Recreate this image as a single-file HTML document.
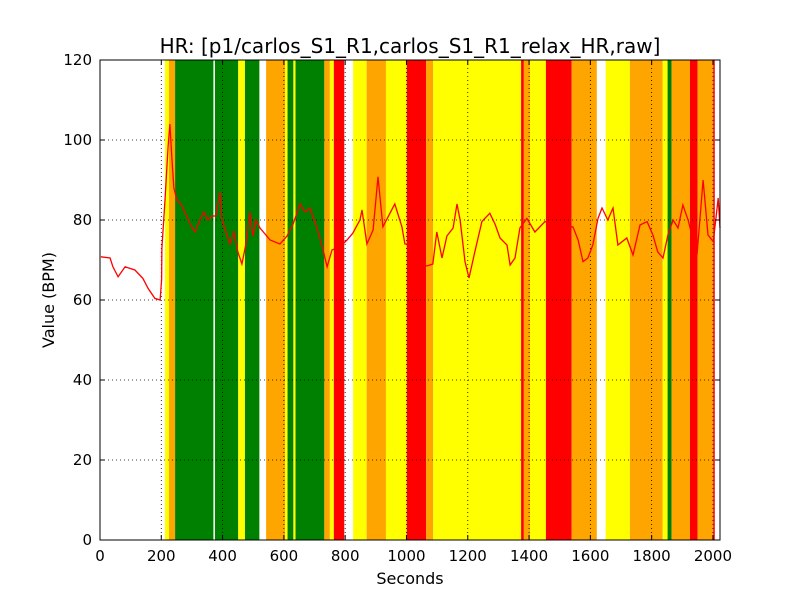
<!DOCTYPE html>
<html><head><meta charset="utf-8"><style>
body{margin:0;background:#fff;}
svg{display:block;font-family:"DejaVu Sans","Liberation Sans",sans-serif;}
</style></head><body>
<svg id="chart" width="800" height="600" viewBox="0 0 800 600" xmlns="http://www.w3.org/2000/svg">
<rect width="800" height="600" fill="#fff"/>
<g id="bands"></g>
<g id="grid"></g>
<g id="series"></g>
<rect x="100" y="60" width="620" height="480" fill="none" stroke="#000" stroke-width="1"/>
<g id="ticks"></g>
<text x="410" y="53" font-size="20" text-anchor="middle">HR: [p1/carlos_S1_R1,carlos_S1_R1_relax_HR,raw]</text>
<text x="410" y="584" font-size="16" text-anchor="middle">Seconds</text>
<text x="54" y="300" font-size="16" text-anchor="middle" transform="rotate(-90 54 300)">Value (BPM)</text>
</svg>
<script>
const xTicks=[0,200,400,600,800,1000,1200,1400,1600,1800,2000];
const yTicks=[0,20,40,60,80,100,120];
const bandStart=[212,225,245,375,451,473,542,604,612,631,638,732,750,763,826,870,933,1001,1064,1087,1374,1383,1403,1455,1539,1650,1729,1836,1852,1865,1925,1950,2001];
const bandEnd=[225,245,370,451,473,520,604,612,631,638,732,750,763,797,870,933,1001,1064,1087,1374,1383,1403,1455,1539,1621,1729,1836,1852,1865,1925,1950,2001,2006];
const bandColor=["yellow","orange","green","green","yellow","green","orange","yellow","green","yellow","green","orange","yellow","red","yellow","orange","yellow","red","orange","yellow","red","orange","yellow","red","orange","yellow","orange","yellow","green","orange","red","orange","red"];
const hrTime=[3,33,42,59,82,114,140,157,179,196,201,202,212,222,228,235,241,251,264,277,294,310,326,339,352,365,378,392,398,411,424,437,450,463,476,489,499,509,522,555,587,610,630,653,669,685,708,728,741,757,783,806,825,848,855,871,891,907,923,940,962,985,995,1002,1018,1044,1067,1086,1099,1116,1132,1152,1165,1175,1191,1204,1223,1246,1272,1289,1305,1328,1338,1354,1370,1393,1419,1452,1494,1543,1560,1576,1592,1608,1625,1638,1657,1674,1690,1719,1739,1762,1785,1804,1820,1837,1853,1870,1886,1902,1919,1948,1968,1984,2001,2017,2023];
const hrValue=[70.8,70.5,68.3,65.8,68.3,67.5,65.4,62.9,60.4,60,65,73,85,98,104,95,88,85,84,82,79,77,80,82,80,81,81,87,80,77,74,77,72,69,74,82,76,80,78,75,74,76,79,84,82,83,78,72.5,68.3,72.5,73.3,75,76.7,80,82.5,74,77.5,90.8,78.3,80.8,84,78.3,74,74,70,69,68.5,69,77,70.5,76,78,84,80,69.6,65.5,72,79.6,81.7,79,75.5,73.75,68.75,70.5,78,80.4,77,79.6,78,78.3,75,69.6,70.5,73.75,80.4,83,80,83,73.75,75.5,71.25,78.75,79.6,76.25,72,70.5,76.25,80,78,83.75,80,71.25,90,76.25,74.6,85.5,78];
const X0=100,X1=720,Y0=540,Y1=60,XMAX=2023,YMAX=120;
function sx(v){return X0+(v/XMAX)*(X1-X0);}
function sy(v){return Y0-(v/YMAX)*(Y0-Y1);}
const NS="http://www.w3.org/2000/svg";
function mk(tag,attrs,parent){const e=document.createElementNS(NS,tag);for(const k in attrs)e.setAttribute(k,attrs[k]);parent.appendChild(e);return e;}
const bands=document.getElementById('bands');
for(let i=0;i<bandStart.length;i++){
  const r=mk('rect',{x:sx(bandStart[i]),y:Y1,width:sx(bandEnd[i])-sx(bandStart[i]),height:Y0-Y1,fill:bandColor[i]},bands);
  
  
}
const grid=document.getElementById('grid'),ticks=document.getElementById('ticks');
xTicks.forEach(t=>{
  const x=sx(t);
  const g=mk('line',{x1:x,x2:x,y1:Y1,y2:Y0,stroke:'#000','stroke-width':0.8,'stroke-dasharray':'1,3'},grid);
  
  
  mk('line',{x1:x,x2:x,y1:Y0,y2:Y0-5,stroke:'#000'},ticks);
  mk('line',{x1:x,x2:x,y1:Y1,y2:Y1+5,stroke:'#000'},ticks);
  const tx=mk('text',{x:x,y:Y0+21,'font-size':15,'text-anchor':'middle'},ticks);
  tx.textContent=t;
  
  
});
yTicks.forEach(t=>{
  const y=sy(t);
  const g=mk('line',{x1:X0,x2:X1,y1:y,y2:y,stroke:'#000','stroke-width':0.8,'stroke-dasharray':'1,3'},grid);
  
  
  mk('line',{x1:X0,x2:X0+5,y1:y,y2:y,stroke:'#000'},ticks);
  mk('line',{x1:X1,x2:X1-5,y1:y,y2:y,stroke:'#000'},ticks);
  const tx=mk('text',{x:X0-8,y:y+5,'font-size':15,'text-anchor':'end'},ticks);
  tx.textContent=t;
  
  
});
const pts=hrTime.map((t,i)=>sx(t).toFixed(1)+','+sy(hrValue[i]).toFixed(1)).join(' ');
const pl=mk('polyline',{points:pts,fill:'none',stroke:'#ff0000','stroke-width':1.3},document.getElementById('series'));


</script>
</body></html>
